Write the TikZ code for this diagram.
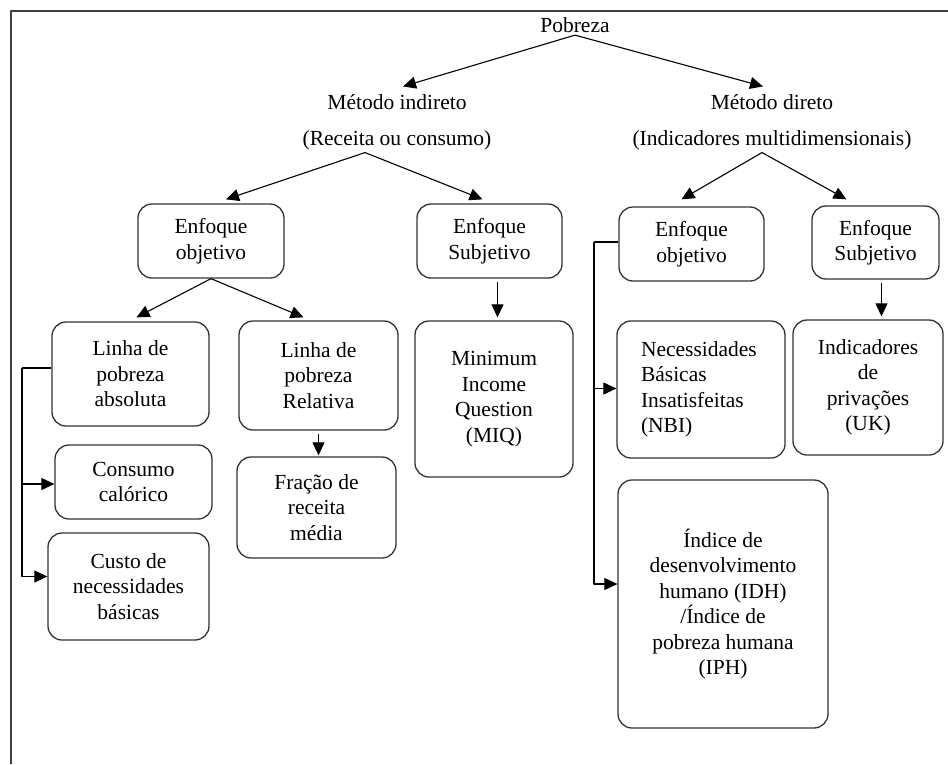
\documentclass[tikz,border=0pt]{standalone}
\usepackage{fontspec}
\setmainfont{Liberation Serif}
\usetikzlibrary{arrows.meta}
\begin{document}
\begin{tikzpicture}[x=1pt, y=-1pt, font=\fontsize{21.5}{25.5}\selectfont, line width=1.1pt, line join=round, >={Triangle[length=13pt,width=12pt]},
  box/.style={draw=black!80, line width=1.3pt, rounded corners=14pt, align=center, inner sep=0pt},
  lbl/.style={align=center, inner sep=2pt}]
\useasboundingbox (0,0) rectangle (948,764);
\draw[line width=1.6pt, black!75] (948,11)--(11,11)--(11,764);
% titulos
\node[lbl] (pob) at (575,25) {Pobreza};
\node[lbl] (mi) at (397,122.5) {Método indireto\\[10pt](Receita ou consumo)};
\node[lbl] (md) at (772,122.5) {Método direto\\[10pt](Indicadores multidimensionais)};
% caixas
\node[box, minimum width=146pt, minimum height=74pt] (eoa) at (211,241) {Enfoque\\objetivo};
\node[box, minimum width=145pt, minimum height=74pt] (esa) at (489.5,241) {Enfoque\\Subjetivo};
\node[box, minimum width=145pt, minimum height=74pt] (eob) at (691.5,244) {Enfoque\\objetivo};
\node[box, minimum width=127pt, minimum height=73pt] (esb) at (875.5,242.5) {Enfoque\\Subjetivo};
\node[box, minimum width=157pt, minimum height=104pt] (lpa) at (130.5,374) {Linha de\\pobreza\\absoluta};
\node[box, minimum width=159pt, minimum height=109pt] (lpr) at (318.5,375.5) {Linha de\\pobreza\\Relativa};
\node[box, minimum width=157pt, minimum height=74pt] (cc) at (133.5,482) {Consumo\\calórico};
\node[box, minimum width=161pt, minimum height=107pt] (cnb) at (128.5,586.5) {Custo de\\necessidades\\básicas};
\node[box, minimum width=159pt, minimum height=101pt] (frm) at (316.5,507.5) {Fração de\\receita\\média};
\node[box, minimum width=158pt, minimum height=156pt] (miq) at (494,399) {Minimum\\Income\\Question\\(MIQ)};
\node[box, align=left, text width=120pt, inner xsep=24pt, minimum height=137pt] (nbi) at (701,389.5) {Necessidades\\Básicas\\Insatisfeitas\\(NBI)};
\node[box, minimum width=150pt, minimum height=135pt] (uk) at (868,387.5) {Indicadores\\de\\privações\\(UK)};
\node[box, minimum width=210pt, minimum height=248pt] (idh) at (723,604) {Índice de\\desenvolvimento\\humano (IDH)\\/Índice de\\pobreza humana\\(IPH)};
% setas
\draw[->] (pob.south)--([xshift=6pt,yshift=6pt]mi.north);
\draw[->] (pob.south)--([xshift=-9pt,yshift=6pt]md.north);
\draw[->] ([xshift=-32pt]mi.south)--([xshift=15pt,yshift=4pt]eoa.north);
\draw[->] ([xshift=-32pt]mi.south)--([xshift=-7pt,yshift=4pt]esa.north);
\draw[->] ([xshift=-10pt]md.south)--([xshift=-10pt,yshift=7pt]eob.north);
\draw[->] ([xshift=-10pt]md.south)--([xshift=-29pt,yshift=6pt]esb.north);
\draw[->] (eoa.south)--([xshift=6pt,yshift=4pt]lpa.north);
\draw[->] (eoa.south)--([xshift=-15pt,yshift=3pt]lpr.north);
\draw[->] ([xshift=8pt,yshift=-3pt]esa.south)--([xshift=8pt,yshift=3pt]esa.south |- miq.north);
\draw[->] ([xshift=6pt,yshift=-3pt]esb.south)--([xshift=6pt,yshift=3pt]esb.south |- uk.north);
\draw[->] ([yshift=-3pt]lpr.south)--([yshift=1pt]lpr.south |- frm.north);
% colchetes
\coordinate (la) at (22,368);
\coordinate (lb) at (594,242);
\draw (lpa.west |- la)--(la);
\draw[->] (la)|-([yshift=-2pt]cc.west);
\draw[->] (la)|-([yshift=10pt]cnb.west);
\draw (eob.west |- lb)--(lb);
\draw[->] (lb)|-([yshift=1pt]nbi.west);
\draw[->] (lb)|-([yshift=20pt]idh.west);
\end{tikzpicture}
\end{document}
